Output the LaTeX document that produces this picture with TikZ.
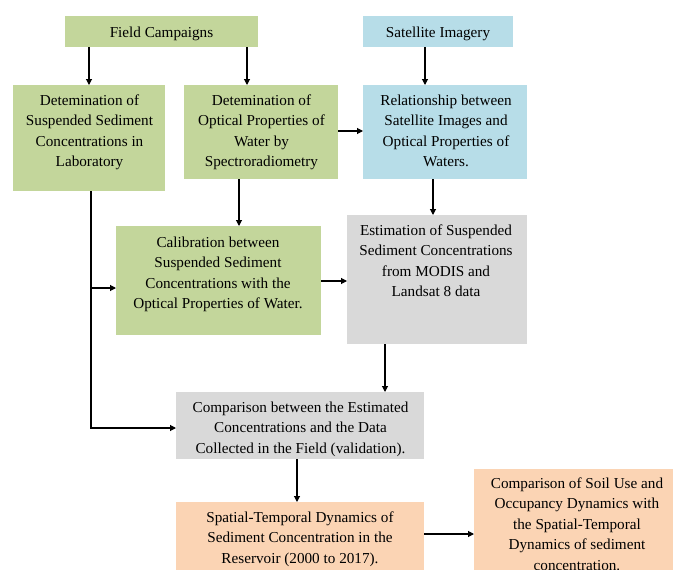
\documentclass[tikz,border=0pt]{standalone}
\usepackage{fontspec}
\setmainfont{Liberation Serif}
\usetikzlibrary{arrows.meta}
\definecolor{boxgreen}{HTML}{C3D69B}
\definecolor{boxblue}{HTML}{B7DDE8}
\definecolor{boxgray}{HTML}{D9D9D9}
\definecolor{boxorange}{HTML}{FBD4B4}
\tikzset{
  panel/.style={draw=none, inner sep=0pt, outer sep=0pt},
  lbl/.style={anchor=north, inner sep=0pt, align=center,
    font=\fontsize{15.2pt}{20.4pt}\selectfont},
  arr/.style={line width=1.1pt, -{Triangle[length=6pt,width=6pt]}},
}
\begin{document}
\begin{tikzpicture}[x=1pt,y=-1pt]
\clip (0,0) rectangle (673,570);
\fill[white] (0,0) rectangle (673,570);
% boxes
\path[fill=boxgreen]  (65,16) rectangle (258,47)   node[panel,midway] (fc) {};
\path[fill=boxblue]   (363,16) rectangle (513,47)  node[panel,midway] (si) {};
\path[fill=boxgreen]  (13,85) rectangle (165,191)  node[panel,midway] (ssc) {};
\path[fill=boxgreen]  (184,85) rectangle (338,179) node[panel,midway] (opt) {};
\path[fill=boxblue]   (363,85) rectangle (527,179) node[panel,midway] (rel) {};
\path[fill=boxgreen]  (116,226) rectangle (321,335) node[panel,midway] (cal) {};
\path[fill=boxgray]   (347,215) rectangle (527,344) node[panel,midway] (est) {};
\path[fill=boxgray]   (176,392) rectangle (424,459) node[panel,midway] (cmp) {};
\path[fill=boxorange] (176,502) rectangle (424,590) node[panel,midway] (spa) {};
\path[fill=boxorange] (474,469) rectangle (680,590) node[panel,midway] (soil) {};
% named edge points of boxes
\coordinate (fcS) at (161.5,47);
\coordinate (siS) at (438,47);
\coordinate (sscN) at (89,85);
\coordinate (sscS) at (91,191);
\coordinate (optN) at (247,85);
\coordinate (optS) at (239,179);
\coordinate (optE) at (338,131);
\coordinate (relN) at (425,85);
\coordinate (relW) at (363,131);
\coordinate (relS) at (433,179);
\coordinate (calN) at (239,226);
\coordinate (calW) at (116,288);
\coordinate (calE) at (321,281);
\coordinate (estN) at (433,215);
\coordinate (estW) at (347,281);
\coordinate (estS) at (385,344);
\coordinate (cmpN) at (385,392);
\coordinate (cmpW) at (176,428);
\coordinate (cmpS) at (297,459);
\coordinate (spaN) at (297,502);
\coordinate (spaE) at (424,534);
\coordinate (soilW) at (474,534);
% texts
\node[lbl] (tfc) at (161.5,26.6) {Field Campaigns};
\node[lbl] (tsi) at (438,26.6) {Satellite Imagery};
\node[lbl] (tssc) at (89.5,94.6) {Detemination of\\Suspended Sediment\\Concentrations in\\Laboratory};
\node[lbl] (topt) at (261.5,94.6) {Detemination of\\Optical Properties of\\Water by\\Spectroradiometry};
\node[lbl] (trel) at (446,94.6) {Relationship between\\Satellite Images and\\Optical Properties of\\Waters.};
\node[lbl] (tcal) at (218,236.6) {Calibration between\\Suspended Sediment\\Concentrations with the\\Optical Properties of Water.};
\node[lbl] (test) at (436,224.6) {Estimation of Suspended\\Sediment Concentrations\\from MODIS and\\Landsat 8 data};
\node[lbl] (tcmp) at (300.5,401.6) {Comparison between the Estimated\\Concentrations and the Data\\Collected in the Field (validation).};
\node[lbl] (tspa) at (300,511.6) {Spatial-Temporal Dynamics of\\Sediment Concentration in the\\Reservoir (2000 to 2017).};
\node[lbl] (tsoil) at (577,477.6) {Comparison of Soil Use and\\Occupancy Dynamics with\\the Spatial-Temporal\\Dynamics of sediment\\concentration.};
% connectors
\draw[arr] (fcS -| sscN) -- (sscN);
\draw[arr] (fcS -| optN) -- (optN);
\draw[arr] (siS -| relN) -- (relN);
\draw[arr] (optE) -- (relW);
\draw[arr] (sscS) |- (cmpW);
\draw[arr] (sscS |- calW) -- (calW);
\draw[arr] (optS) -- (calN);
\draw[arr] (relS) -- (estN);
\draw[arr] (calE) -- (estW);
\draw[arr] (estS) -- (cmpN);
\draw[arr] (cmpS) -- (spaN);
\draw[arr] (spaE) -- (soilW);
\end{tikzpicture}
\end{document}
